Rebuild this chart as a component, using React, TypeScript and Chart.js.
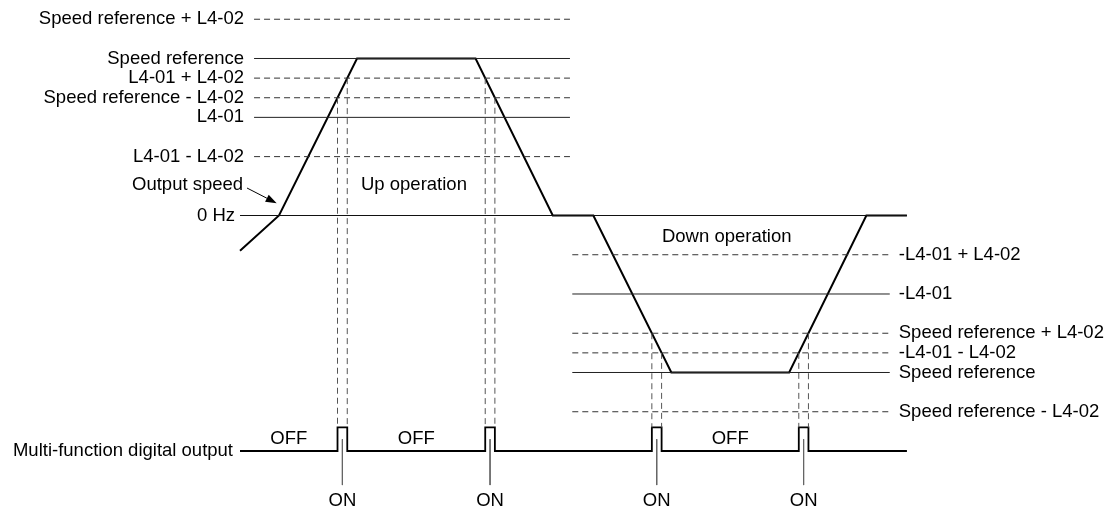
import React, { useEffect, useRef } from "react";
import { Chart, registerables } from "chart.js";
Chart.register(...registerables);

// Output speed profile (time units, speed in % of speed reference)
const speedTimes = [-5, 0, 10, 25.2, 35.1, 40.3, 50.3, 65.4, 75.3, 80.5];
const speedValues = [-22.5, 0, 100, 100, 0, 0, -100, -100, 0, 0];

// Up-operation reference levels
const upLabels = [
  "Speed reference + L4-02",
  "Speed reference",
  "L4-01 + L4-02",
  "Speed reference - L4-02",
  "L4-01",
  "L4-01 - L4-02",
];
const upValues = [125, 100, 87.5, 75, 62.5, 37.5];
const upDashed = [true, false, true, true, false, true];
const upSpan = [-3.2, 37.3];

// Down-operation reference levels
const downLabels = [
  "-L4-01 + L4-02",
  "-L4-01",
  "Speed reference + L4-02",
  "-L4-01 - L4-02",
  "Speed reference",
  "Speed reference - L4-02",
];
const downValues = [-25, -50, -75, -87.5, -100, -125];
const downDashed = [true, false, true, true, false, true];
const downSpan = [37.6, 78.3];

const zeroLabel = "0 Hz";
const zeroSpan = [-5, 80.5];

// Speed agree bands which switch the digital output ON
const agreeBands = [
  [75, 87.5],
  [-87.5, -75],
];
const outputLabel = "Multi-function digital output";
const outputLow = -150;
const outputHigh = -135;
const offGaps = [0, 1, 3];
const onLabel = "ON";
const offLabel = "OFF";
const upText = "Up operation";
const downText = "Down operation";
const speedText = "Output speed";

const X_MIN = -35.77;
const X_MAX = 106.92;
const Y_MIN = -185.67;
const Y_MAX = 137.26;

const FONT = '18.5px "Liberation Sans", Arial, Helvetica, sans-serif';

type Pulse = { t: number; v: number }[];

function computePulses(): Pulse[] {
  const pulses: Pulse[] = [];
  for (let i = 0; i < speedTimes.length - 1; i++) {
    const t0 = speedTimes[i], v0 = speedValues[i];
    const t1 = speedTimes[i + 1], v1 = speedValues[i + 1];
    if (v0 === v1) continue;
    for (const [lo, hi] of agreeBands) {
      if (lo >= Math.min(v0, v1) && hi <= Math.max(v0, v1)) {
        const ta = t0 + ((lo - v0) / (v1 - v0)) * (t1 - t0);
        const tb = t0 + ((hi - v0) / (v1 - v0)) * (t1 - t0);
        const edges = [
          { t: ta, v: lo },
          { t: tb, v: hi },
        ].sort((a, b) => a.t - b.t);
        pulses.push(edges);
      }
    }
  }
  return pulses.sort((a, b) => a[0].t - b[0].t);
}

function seg(points: { x: number; y: number }[], color: string, width: number, dash: number[] = []) {
  return {
    data: points,
    showLine: true,
    borderColor: color,
    backgroundColor: color,
    borderWidth: width,
    borderDash: dash,
    pointRadius: 0,
    pointHoverRadius: 0,
    fill: false,
    tension: 0,
  };
}

export default function App() {
  const ref = useRef<HTMLCanvasElement | null>(null);

  useEffect(() => {
    if (!ref.current) return;
    const pulses = computePulses();
    const datasets: any[] = [];

    upValues.forEach((v, i) => {
      datasets.push(
        seg(
          [
            { x: upSpan[0], y: v },
            { x: upSpan[1], y: v },
          ],
          upDashed[i] ? "#333" : "#222",
          1,
          upDashed[i] ? [6, 4] : []
        )
      );
    });
    downValues.forEach((v, i) => {
      datasets.push(
        seg(
          [
            { x: downSpan[0], y: v },
            { x: downSpan[1], y: v },
          ],
          downDashed[i] ? "#333" : "#222",
          1,
          downDashed[i] ? [6, 4] : []
        )
      );
    });
    datasets.push(
      seg(
        [
          { x: zeroSpan[0], y: 0 },
          { x: zeroSpan[1], y: 0 },
        ],
        "#111",
        1.2
      )
    );

    // vertical dashed guides
    pulses.forEach((p) => {
      p.forEach((e) => {
        datasets.push(
          seg(
            [
              { x: e.t, y: e.v },
              { x: e.t, y: outputHigh },
            ],
            "#555",
            1,
            [6, 4]
          )
        );
      });
    });

    // ON marker lines
    pulses.forEach((p) => {
      const c = (p[0].t + p[1].t) / 2;
      datasets.push(
        seg(
          [
            { x: c, y: (outputLow + outputHigh) / 2 },
            { x: c, y: -171.7 },
          ],
          "#666",
          1
        )
      );
    });

    // speed profile
    datasets.push(
      seg(
        speedTimes.map((t, i) => ({ x: t, y: speedValues[i] })),
        "#000",
        2
      )
    );

    // digital output trace
    const dig: { x: number; y: number }[] = [{ x: zeroSpan[0], y: outputLow }];
    pulses.forEach((p) => {
      dig.push({ x: p[0].t, y: outputLow });
      dig.push({ x: p[0].t, y: outputHigh });
      dig.push({ x: p[1].t, y: outputHigh });
      dig.push({ x: p[1].t, y: outputLow });
    });
    dig.push({ x: zeroSpan[1], y: outputLow });
    datasets.push(seg(dig, "#000", 1.8));

    const textPlugin = {
      id: "diagramText",
      afterDatasetsDraw(chart: any) {
        const ctx = chart.ctx as CanvasRenderingContext2D;
        const xs = chart.scales.x;
        const ys = chart.scales.y;
        const X = (v: number) => xs.getPixelForValue(v);
        const Y = (v: number) => ys.getPixelForValue(v);
        ctx.save();
        ctx.font = FONT;
        ctx.fillStyle = "#000";
        ctx.textBaseline = "middle";

        ctx.textAlign = "right";
        upLabels.forEach((l, i) => ctx.fillText(l, X(upSpan[0]) - 10, Y(upValues[i])));
        ctx.fillText(zeroLabel, X(zeroSpan[0]) - 5, Y(0));
        ctx.fillText(outputLabel, X(zeroSpan[0]) - 7, Y(outputLow));
        ctx.fillText(speedText, X(-4.6), Y(19.7));

        ctx.textAlign = "left";
        downLabels.forEach((l, i) => ctx.fillText(l, X(downSpan[1]) + 9, Y(downValues[i])));

        ctx.textAlign = "center";
        ctx.fillText(upText, X(17.3), Y(19.4));
        ctx.fillText(downText, X(57.4), Y(-13.7));

        // OFF / ON labels
        const edgesStart = [zeroSpan[0], ...pulses.map((p) => p[1].t)];
        const edgesEnd = [...pulses.map((p) => p[0].t), zeroSpan[1]];
        offGaps.forEach((g) => {
          const mid = (edgesStart[g] + edgesEnd[g]) / 2;
          ctx.fillText(offLabel, X(mid), Y(outputLow) - 12);
        });
        pulses.forEach((p) => {
          const c = (p[0].t + p[1].t) / 2;
          ctx.fillText(onLabel, X(c), Y(-171.7) + 16);
        });

        // arrow to the output speed curve
        const ax0 = X(-4.1), ay0 = Y(17.5);
        const ax1 = X(-0.3), ay1 = Y(7.8);
        const ang = Math.atan2(ay1 - ay0, ax1 - ax0);
        const hl = 11, hw = 4;
        ctx.strokeStyle = "#000";
        ctx.lineWidth = 1;
        ctx.beginPath();
        ctx.moveTo(ax0, ay0);
        ctx.lineTo(ax1 - Math.cos(ang) * hl, ay1 - Math.sin(ang) * hl);
        ctx.stroke();
        ctx.beginPath();
        ctx.moveTo(ax1, ay1);
        ctx.lineTo(
          ax1 - Math.cos(ang) * hl - Math.sin(ang) * hw,
          ay1 - Math.sin(ang) * hl + Math.cos(ang) * hw
        );
        ctx.lineTo(
          ax1 - Math.cos(ang) * hl + Math.sin(ang) * hw,
          ay1 - Math.sin(ang) * hl - Math.cos(ang) * hw
        );
        ctx.closePath();
        ctx.fillStyle = "#000";
        ctx.fill();
        ctx.restore();
      },
    };

    const chart = new Chart(ref.current, {
      type: "scatter",
      data: { datasets },
      options: {
        animation: false,
        responsive: true,
        maintainAspectRatio: false,
        layout: { padding: 0 },
        plugins: { legend: { display: false }, tooltip: { enabled: false } },
        events: [],
        scales: {
          x: { type: "linear", min: X_MIN, max: X_MAX, display: false },
          y: { type: "linear", min: Y_MIN, max: Y_MAX, display: false },
        },
      },
      plugins: [textPlugin],
    });
    return () => chart.destroy();
  }, []);

  return (
    <div
      style={{
        position: "absolute",
        left: 0,
        top: 0,
        width: 1113,
        height: 507,
        background: "#fff",
      }}
    >
      <canvas ref={ref} />
    </div>
  );
}
